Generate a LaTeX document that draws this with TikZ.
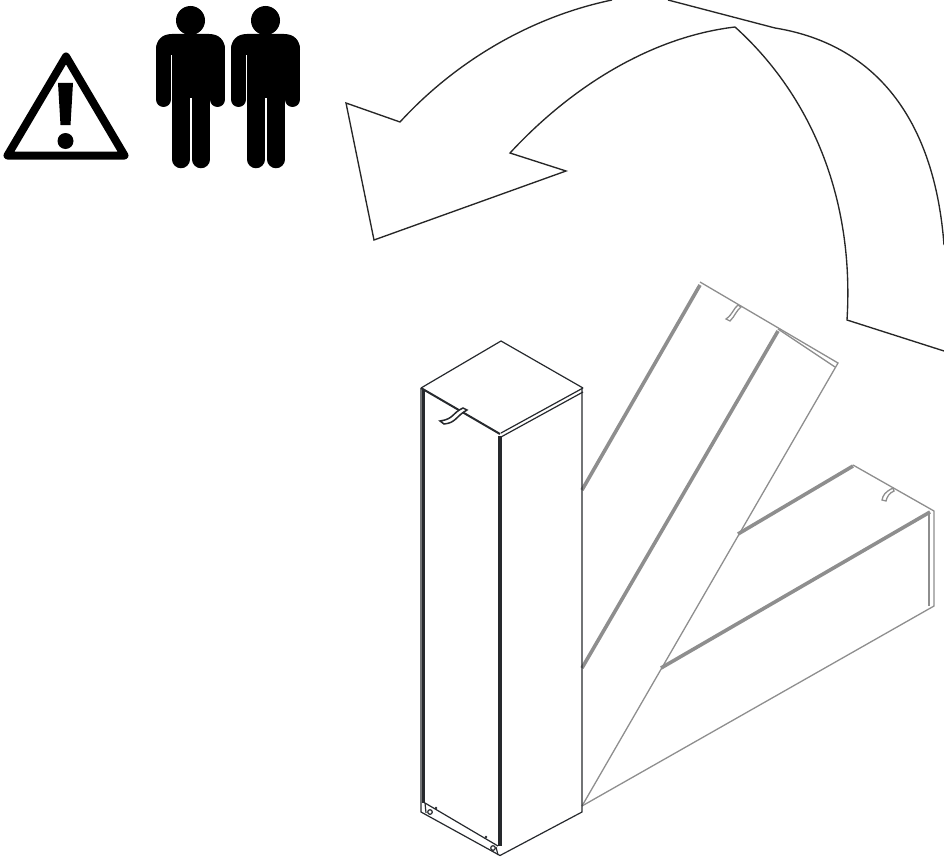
\documentclass[tikz,border=0pt]{standalone}
\definecolor{boxline}{HTML}{26292D}
\definecolor{ghost}{HTML}{8E8E8E}
\tikzset{
 thinbox/.style={draw=boxline,line width=1.2pt},
 thickbox/.style={draw=boxline,line width=3.6pt},
 thinghost/.style={draw=ghost,line width=1.3pt},
 thickghost/.style={draw=ghost,line width=3.6pt},
 turnarrow/.style={draw=black!85,line width=1.35pt,line join=miter},
 limb/.style={draw=black,line cap=round},
}
\begin{document}
\begin{tikzpicture}[x=1pt,y=-1pt]
\useasboundingbox (0,0) rectangle (944,856);
% warning triangle
\draw[black,line width=8pt,line join=round] (66,56.5) -- (7.5,155.5) -- (124.5,155.5) -- cycle;
\fill[black] (58,83) -- (73,83) -- (70.5,125) -- (60.5,125) -- cycle;
\fill[black] (65.5,141) circle (8);
% people
\foreach \dx in {0,75}{
\begin{scope}[xshift=\dx pt]
\fill[black] (190.5,20.5) circle (14.5);
\fill[black] (172,34) -- (209,34) .. controls (219,34) and (225,40) .. (225,50) -- (156,50) .. controls (156,40) and (162,34) .. (172,34) -- cycle;
\fill[black] (172,48) rectangle (209.5,98);
\draw[limb,line width=15pt] (163.5,48) -- (163.5,99.5);
\draw[limb,line width=15pt] (217.5,48) -- (217.5,99.5);
\draw[limb,line width=17.5pt] (181,90) -- (181,159.5);
\draw[limb,line width=17.5pt] (201,90) -- (201,159.5);
\fill[black] (156,48) rectangle (225,55);
\end{scope}}
% turn arrow
\draw[turnarrow] (612,0) .. controls (530,17) and (455,62) .. (400,122) -- (346,103) -- (374,240) -- (566,171) -- (510,153) .. controls (570,88) and (650,37) .. (735,27) .. controls (805,90) and (855,190) .. (847,320) -- (944,351);
\draw[turnarrow] (668,0) -- (775,28) .. controls (880,45) and (935,125) .. (944,245);
% lowest ghost panel
\draw[thickghost] (853,466) -- (738,534);
\draw[thickghost] (930,512) -- (661,668);
\draw[thinghost] (853,465) -- (934,511) -- (934,606) -- (582,806);
\draw[thinghost] (929,514) -- (929,606);
\draw[thinghost,fill=white] (893,488) .. controls (885,492) and (883,495) .. (882,500) -- (886,501) .. controls (887,497) and (889,493) .. (894,491) -- cycle;
% middle ghost panel
\draw[thickghost] (700,285) -- (582,490);
\draw[thickghost] (778,331) -- (582,668);
\draw[thinghost] (700,282) -- (838,363) -- (582,806);
\draw[thinghost] (778,329) -- (835,367);
\draw[thinghost,fill=white] (738,305) .. controls (733,309) and (733,314) .. (726,319) -- (730,321) .. controls (735,316) and (736,311) .. (741,307) -- cycle;
% box
\draw[thinbox] (421,388) -- (501,341) -- (583,388);
\draw[thinbox] (421,388) -- (421,812) -- (500,855.5) -- (582,812) -- (582,388);
\draw[thinbox] (583,392) -- (501,437);
\draw[thinbox] (583,388) -- (501,433);
\draw[thickbox] (423.5,390) -- (423.5,803);
\draw[thickbox] (500,436) -- (500,846);
\draw[draw=boxline,line width=2pt] (421,388) -- (500,434);
\draw[thinbox] (425,803) -- (498,846);
\draw[thinbox] (426,813) -- (425,803);
\draw[thinbox] (496,847) -- (498,855);
\draw[thinbox] (430,812) circle (2.3);
\draw[thinbox] (493,848) circle (2.3);
\fill[boxline] (436,808) circle (1.3);
\fill[boxline] (486,837) circle (1.3);
\draw[thinbox,line width=1.5pt,fill=white] (463,408) .. controls (452,413) and (454,419) .. (440,421) -- (444,424) .. controls (456,423) and (456,416) .. (467,410) -- cycle;
\end{tikzpicture}
\end{document}
